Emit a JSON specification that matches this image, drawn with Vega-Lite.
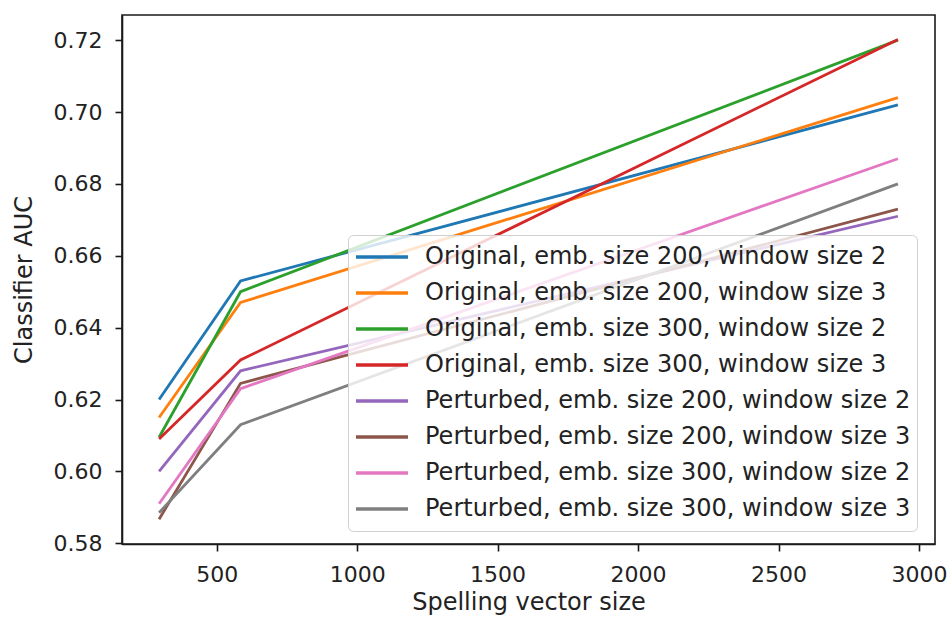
{
  "$schema": "https://vega.github.io/schema/vega-lite/v6.json",
  "autosize": "none",
  "padding": {"left": 122, "top": 15, "right": 12, "bottom": 93},
  "width": 813,
  "height": 529,
  "background": "white",
  "data": {
    "values": [
      {"series": "Original, emb. size 200, window size 2", "size": 295, "auc": 0.620},
      {"series": "Original, emb. size 200, window size 2", "size": 585, "auc": 0.653},
      {"series": "Original, emb. size 200, window size 2", "size": 2925, "auc": 0.702},
      {"series": "Original, emb. size 200, window size 3", "size": 295, "auc": 0.615},
      {"series": "Original, emb. size 200, window size 3", "size": 585, "auc": 0.647},
      {"series": "Original, emb. size 200, window size 3", "size": 2925, "auc": 0.704},
      {"series": "Original, emb. size 300, window size 2", "size": 295, "auc": 0.6095},
      {"series": "Original, emb. size 300, window size 2", "size": 585, "auc": 0.650},
      {"series": "Original, emb. size 300, window size 2", "size": 2925, "auc": 0.720},
      {"series": "Original, emb. size 300, window size 3", "size": 295, "auc": 0.609},
      {"series": "Original, emb. size 300, window size 3", "size": 585, "auc": 0.631},
      {"series": "Original, emb. size 300, window size 3", "size": 2925, "auc": 0.7202},
      {"series": "Perturbed, emb. size 200, window size 2", "size": 295, "auc": 0.600},
      {"series": "Perturbed, emb. size 200, window size 2", "size": 585, "auc": 0.628},
      {"series": "Perturbed, emb. size 200, window size 2", "size": 2925, "auc": 0.671},
      {"series": "Perturbed, emb. size 200, window size 3", "size": 295, "auc": 0.5867},
      {"series": "Perturbed, emb. size 200, window size 3", "size": 585, "auc": 0.6245},
      {"series": "Perturbed, emb. size 200, window size 3", "size": 2925, "auc": 0.673},
      {"series": "Perturbed, emb. size 300, window size 2", "size": 295, "auc": 0.591},
      {"series": "Perturbed, emb. size 300, window size 2", "size": 585, "auc": 0.623},
      {"series": "Perturbed, emb. size 300, window size 2", "size": 2925, "auc": 0.687},
      {"series": "Perturbed, emb. size 300, window size 3", "size": 295, "auc": 0.5885},
      {"series": "Perturbed, emb. size 300, window size 3", "size": 585, "auc": 0.613},
      {"series": "Perturbed, emb. size 300, window size 3", "size": 2925, "auc": 0.680}
    ]
  },
  "mark": {"type": "line", "strokeWidth": 2.8, "clip": true},
  "encoding": {
    "x": {
      "field": "size",
      "type": "quantitative",
      "title": "Spelling vector size",
      "scale": {"domain": [163, 3057], "nice": false, "zero": false},
      "axis": {"values": [500, 1000, 1500, 2000, 2500, 3000], "format": "d", "titlePadding": 5}
    },
    "y": {
      "field": "auc",
      "type": "quantitative",
      "title": "Classifier AUC",
      "scale": {"domain": [0.5798, 0.727], "nice": false, "zero": false},
      "axis": {"values": [0.58, 0.6, 0.62, 0.64, 0.66, 0.68, 0.7, 0.72], "format": ".2f", "titlePadding": 17}
    },
    "color": {
      "field": "series",
      "type": "nominal",
      "title": null,
      "scale": {
        "domain": [
          "Original, emb. size 200, window size 2",
          "Original, emb. size 200, window size 3",
          "Original, emb. size 300, window size 2",
          "Original, emb. size 300, window size 3",
          "Perturbed, emb. size 200, window size 2",
          "Perturbed, emb. size 200, window size 3",
          "Perturbed, emb. size 300, window size 2",
          "Perturbed, emb. size 300, window size 3"
        ],
        "range": ["#1f77b4", "#ff7f0e", "#2ca02c", "#d62728", "#9467bd", "#8c564b", "#e377c2", "#7f7f7f"]
      },
      "legend": {
        "orient": "none",
        "legendX": 226,
        "legendY": 220,
        "symbolType": "stroke",
        "symbolSize": 2704,
        "symbolStrokeWidth": 3.5,
        "labelFontSize": 24,
        "labelLimit": 0,
        "labelOffset": 15,
        "clipHeight": 32,
        "rowPadding": 4,
        "padding": 6,
        "fillColor": "rgba(255,255,255,0.8)",
        "strokeColor": "#d0d0d0",
        "cornerRadius": 5
      }
    }
  },
  "config": {
    "font": "DejaVu Sans",
    "view": {"stroke": "#1a1a1a", "strokeWidth": 1.6},
    "axis": {
      "grid": false,
      "domainColor": "#1a1a1a",
      "domainWidth": 1.6,
      "tickColor": "#1a1a1a",
      "tickWidth": 1.6,
      "tickSize": 7,
      "labelFontSize": 22,
      "labelColor": "#222222",
      "titleFontSize": 24,
      "titleFontWeight": "normal",
      "titleColor": "#222222",
      "labelPadding": 13
    },
    "legend": {"labelColor": "#222222", "labelFont": "DejaVu Sans"}
  }
}
